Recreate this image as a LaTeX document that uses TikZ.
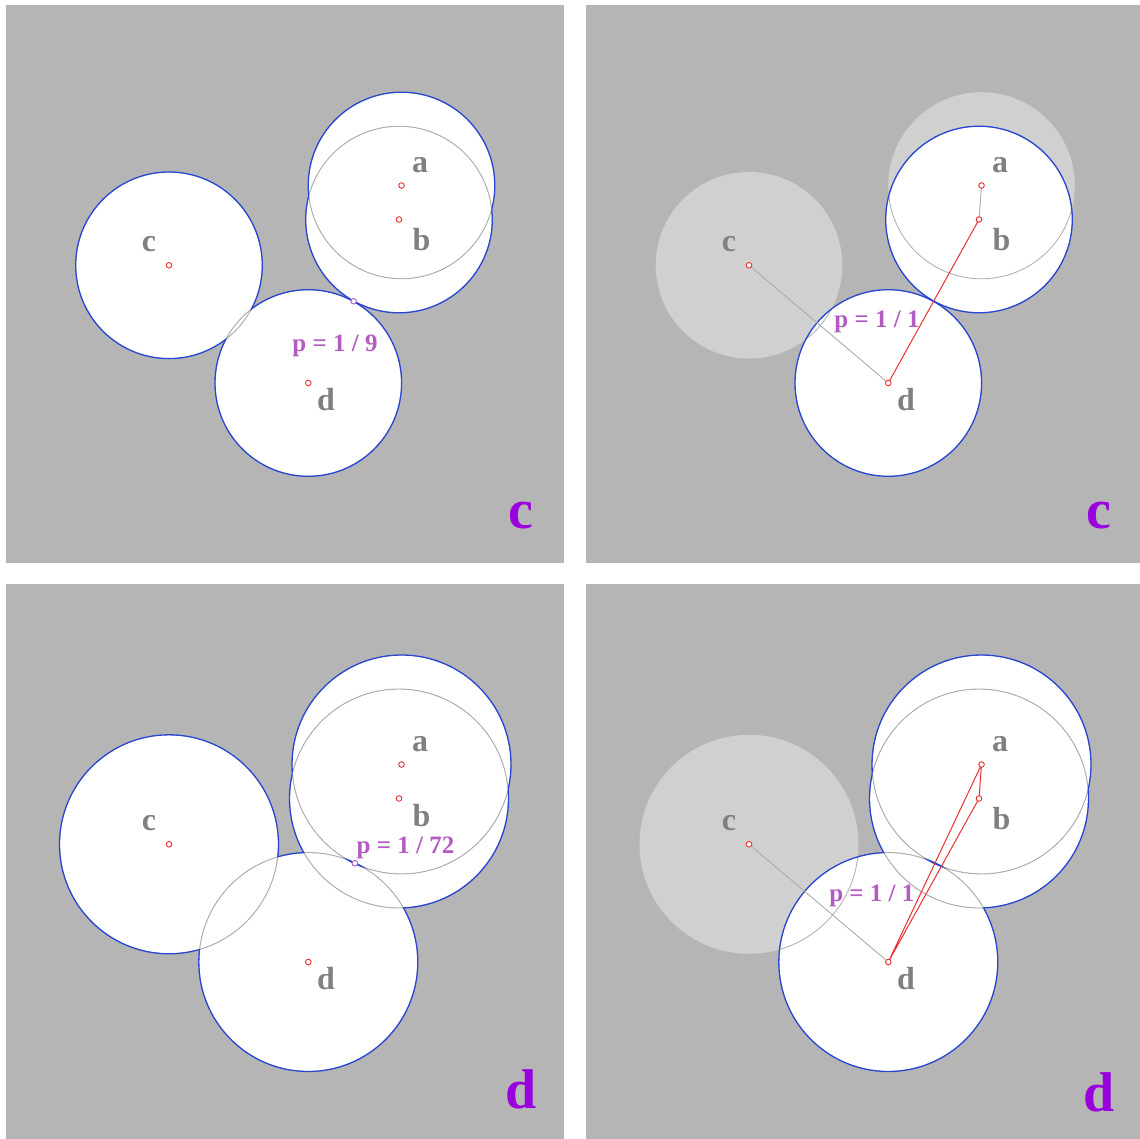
\documentclass[tikz,border=0pt]{standalone}
\usepackage{fontspec}
\setmainfont{Liberation Serif}
\usetikzlibrary{calc}
\definecolor{bgg}{RGB}{181,181,181}
\definecolor{lgr}{RGB}{208,208,208}
\definecolor{labc}{RGB}{128,128,128}
\definecolor{blu}{RGB}{40,70,210}
\definecolor{rdc}{RGB}{232,48,48}
\definecolor{plc}{RGB}{178,92,194}
\definecolor{bigc}{RGB}{153,0,221}
\definecolor{arcc}{RGB}{172,172,172}
\definecolor{glc}{RGB}{172,172,172}
\tikzset{
  cdot/.style={circle,draw=rdc,fill=white,line width=0.9pt,inner sep=0pt,minimum size=5.6pt},
  pdot/.style={circle,draw=plc,fill=white,line width=0.9pt,inner sep=0pt,minimum size=5.6pt},
  lbl/.style={text=labc,font=\fontsize{32}{32}\selectfont\bfseries,inner sep=0pt},
  plab/.style={text=plc,font=\fontsize{25}{25}\selectfont\bfseries,inner sep=0pt},
  bigl/.style={text=bigc,font=\fontsize{56}{56}\selectfont\bfseries,inner sep=0pt},
  arcline/.style={draw=arcc,line width=0.8pt},
  bluebd/.style={draw=blu,line width=1.3pt},
  gline/.style={draw=glc,line width=0.9pt},
  rline/.style={draw=rdc,line width=1pt,line join=round},
}
\newcommand\bluecirc[3]{%
  \begin{scope}[even odd rule]
    \clip (-30,-30) rectangle (620,620) #2;
    \draw[bluebd] (#1) circle[radius=#3];
  \end{scope}}
\def\ra{93.3}
\def\rb{109.5}
\begin{document}
\begin{tikzpicture}[x=1pt,y=-1pt]
\useasboundingbox (0,0) rectangle (1140,1139);
\fill[white] (0,0) rectangle (1140,1139);

% ---------------- panel 1 ----------------
\begin{scope}[shift={(6,5)}]
  \fill[bgg] (0,0) rectangle (557.5,558);
  \coordinate (a1) at (395.5,180.5);
  \coordinate (b1) at (393,214.5);
  \coordinate (c1) at (163,260.3);
  \coordinate (d1) at (302.3,378);
  \foreach \p in {a1,b1,c1,d1}{\fill[white] (\p) circle[radius=\ra];}
  \foreach \q in {a1,b1,c1,d1}{%
    \begin{scope}\clip (\q) circle[radius=\ra];
      \foreach \p in {a1,b1,c1,d1}{\draw[arcline] (\p) circle[radius=\ra];}
    \end{scope}}
  \bluecirc{a1}{(b1) circle[radius=\ra] (c1) circle[radius=\ra] (d1) circle[radius=\ra]}{\ra}
  \bluecirc{b1}{(a1) circle[radius=\ra] (c1) circle[radius=\ra] (d1) circle[radius=\ra]}{\ra}
  \bluecirc{c1}{(a1) circle[radius=\ra] (b1) circle[radius=\ra] (d1) circle[radius=\ra]}{\ra}
  \bluecirc{d1}{(a1) circle[radius=\ra] (b1) circle[radius=\ra] (c1) circle[radius=\ra]}{\ra}
  \foreach \p in {a1,b1,c1,d1}{\node[cdot] (n\p) at (\p) {};}
  \node[pdot] (t1) at ($(b1)!0.5!(d1)$) {};
  \node[lbl] (la1) at (414,160) {a};
  \node[lbl] (lb1) at (415.5,235) {b};
  \node[lbl] (lc1) at (143,239) {c};
  \node[lbl] (ld1) at (320,395) {d};
  \node[plab] (p1) at (329,340.5) {p = 1 / 9};
  \node[bigl] (k1) at (514.5,510.5) {c};
\end{scope}

% ---------------- panel 2 ----------------
\begin{scope}[shift={(586,5)}]
  \fill[bgg] (0,0) rectangle (554,558);
  \coordinate (a2) at (395.5,180.5);
  \coordinate (b2) at (393,214.5);
  \coordinate (c2) at (163,260.3);
  \coordinate (d2) at (302.3,378);
  \foreach \p in {a2,c2}{\fill[lgr] (\p) circle[radius=\ra];}
  \foreach \p in {b2,d2}{\fill[white] (\p) circle[radius=\ra];}
  \foreach \q in {b2,d2}{%
    \begin{scope}\clip (\q) circle[radius=\ra];
      \foreach \p in {a2,b2,c2,d2}{\draw[arcline] (\p) circle[radius=\ra];}
    \end{scope}}
  \bluecirc{b2}{(d2) circle[radius=\ra]}{\ra}
  \bluecirc{d2}{(b2) circle[radius=\ra]}{\ra}
  \draw[gline] (c2) -- (d2);
  \draw[gline] (a2) -- (b2);
  \draw[rline] (d2) -- (b2);
  \foreach \p in {a2,b2,c2,d2}{\node[cdot] (n\p) at (\p) {};}
  \node[lbl] (la2) at (414,160) {a};
  \node[lbl] (lb2) at (415.5,235) {b};
  \node[lbl] (lc2) at (143,239) {c};
  \node[lbl] (ld2) at (320,395) {d};
  \node[plab] (p2) at (291,317) {p = 1 / 1};
  \node[bigl] (k2) at (513,511) {c};
\end{scope}

% ---------------- panel 3 ----------------
\begin{scope}[shift={(6,584)}]
  \fill[bgg] (0,0) rectangle (557.5,555);
  \coordinate (a3) at (395.5,180.5);
  \coordinate (b3) at (393,214.5);
  \coordinate (c3) at (163,260.3);
  \coordinate (d3) at (302.3,378);
  \foreach \p in {a3,b3,c3,d3}{\fill[white] (\p) circle[radius=\rb];}
  \foreach \q in {a3,b3,c3,d3}{%
    \begin{scope}\clip (\q) circle[radius=\rb];
      \foreach \p in {a3,b3,c3,d3}{\draw[arcline] (\p) circle[radius=\rb];}
    \end{scope}}
  \bluecirc{a3}{(b3) circle[radius=\rb] (c3) circle[radius=\rb] (d3) circle[radius=\rb]}{\rb}
  \bluecirc{b3}{(a3) circle[radius=\rb] (c3) circle[radius=\rb] (d3) circle[radius=\rb]}{\rb}
  \bluecirc{c3}{(a3) circle[radius=\rb] (b3) circle[radius=\rb] (d3) circle[radius=\rb]}{\rb}
  \bluecirc{d3}{(a3) circle[radius=\rb] (b3) circle[radius=\rb] (c3) circle[radius=\rb]}{\rb}
  \foreach \p in {a3,b3,c3,d3}{\node[cdot] (n\p) at (\p) {};}
  \node[pdot] (t3) at ($(a3)!0.5!(d3)$) {};
  \node[lbl] (la3) at (414,160) {a};
  \node[lbl] (lb3) at (415.5,232) {b};
  \node[lbl] (lc3) at (143,239) {c};
  \node[lbl] (ld3) at (320,395) {d};
  \node[plab] (p3) at (399.5,264) {p = 1 / 72};
  \node[bigl] (k3) at (515,505) {d};
\end{scope}

% ---------------- panel 4 ----------------
\begin{scope}[shift={(586,584)}]
  \fill[bgg] (0,0) rectangle (554,555);
  \coordinate (a4) at (395.5,180.5);
  \coordinate (b4) at (393,214.5);
  \coordinate (c4) at (163,260.3);
  \coordinate (d4) at (302.3,378);
  \fill[lgr] (c4) circle[radius=\rb];
  \foreach \p in {a4,b4,d4}{\fill[white] (\p) circle[radius=\rb];}
  \foreach \q in {a4,b4,d4}{%
    \begin{scope}\clip (\q) circle[radius=\rb];
      \foreach \p in {a4,b4,c4,d4}{\draw[arcline] (\p) circle[radius=\rb];}
    \end{scope}}
  \bluecirc{a4}{(b4) circle[radius=\rb] (d4) circle[radius=\rb]}{\rb}
  \bluecirc{b4}{(a4) circle[radius=\rb] (d4) circle[radius=\rb]}{\rb}
  \bluecirc{d4}{(a4) circle[radius=\rb] (b4) circle[radius=\rb]}{\rb}
  \draw[gline] (c4) -- (d4);
  \draw[rline] (d4) -- (a4) -- (b4) -- cycle;
  \foreach \p in {a4,b4,c4,d4}{\node[cdot] (n\p) at (\p) {};}
  \node[lbl] (la4) at (414,160) {a};
  \node[lbl] (lb4) at (415.5,235) {b};
  \node[lbl] (lc4) at (143,239) {c};
  \node[lbl] (ld4) at (320,395) {d};
  \node[plab] (p4) at (285.8,311.5) {p = 1 / 1};
  \node[bigl] (k4) at (513,508) {d};
\end{scope}
\end{tikzpicture}
\end{document}
